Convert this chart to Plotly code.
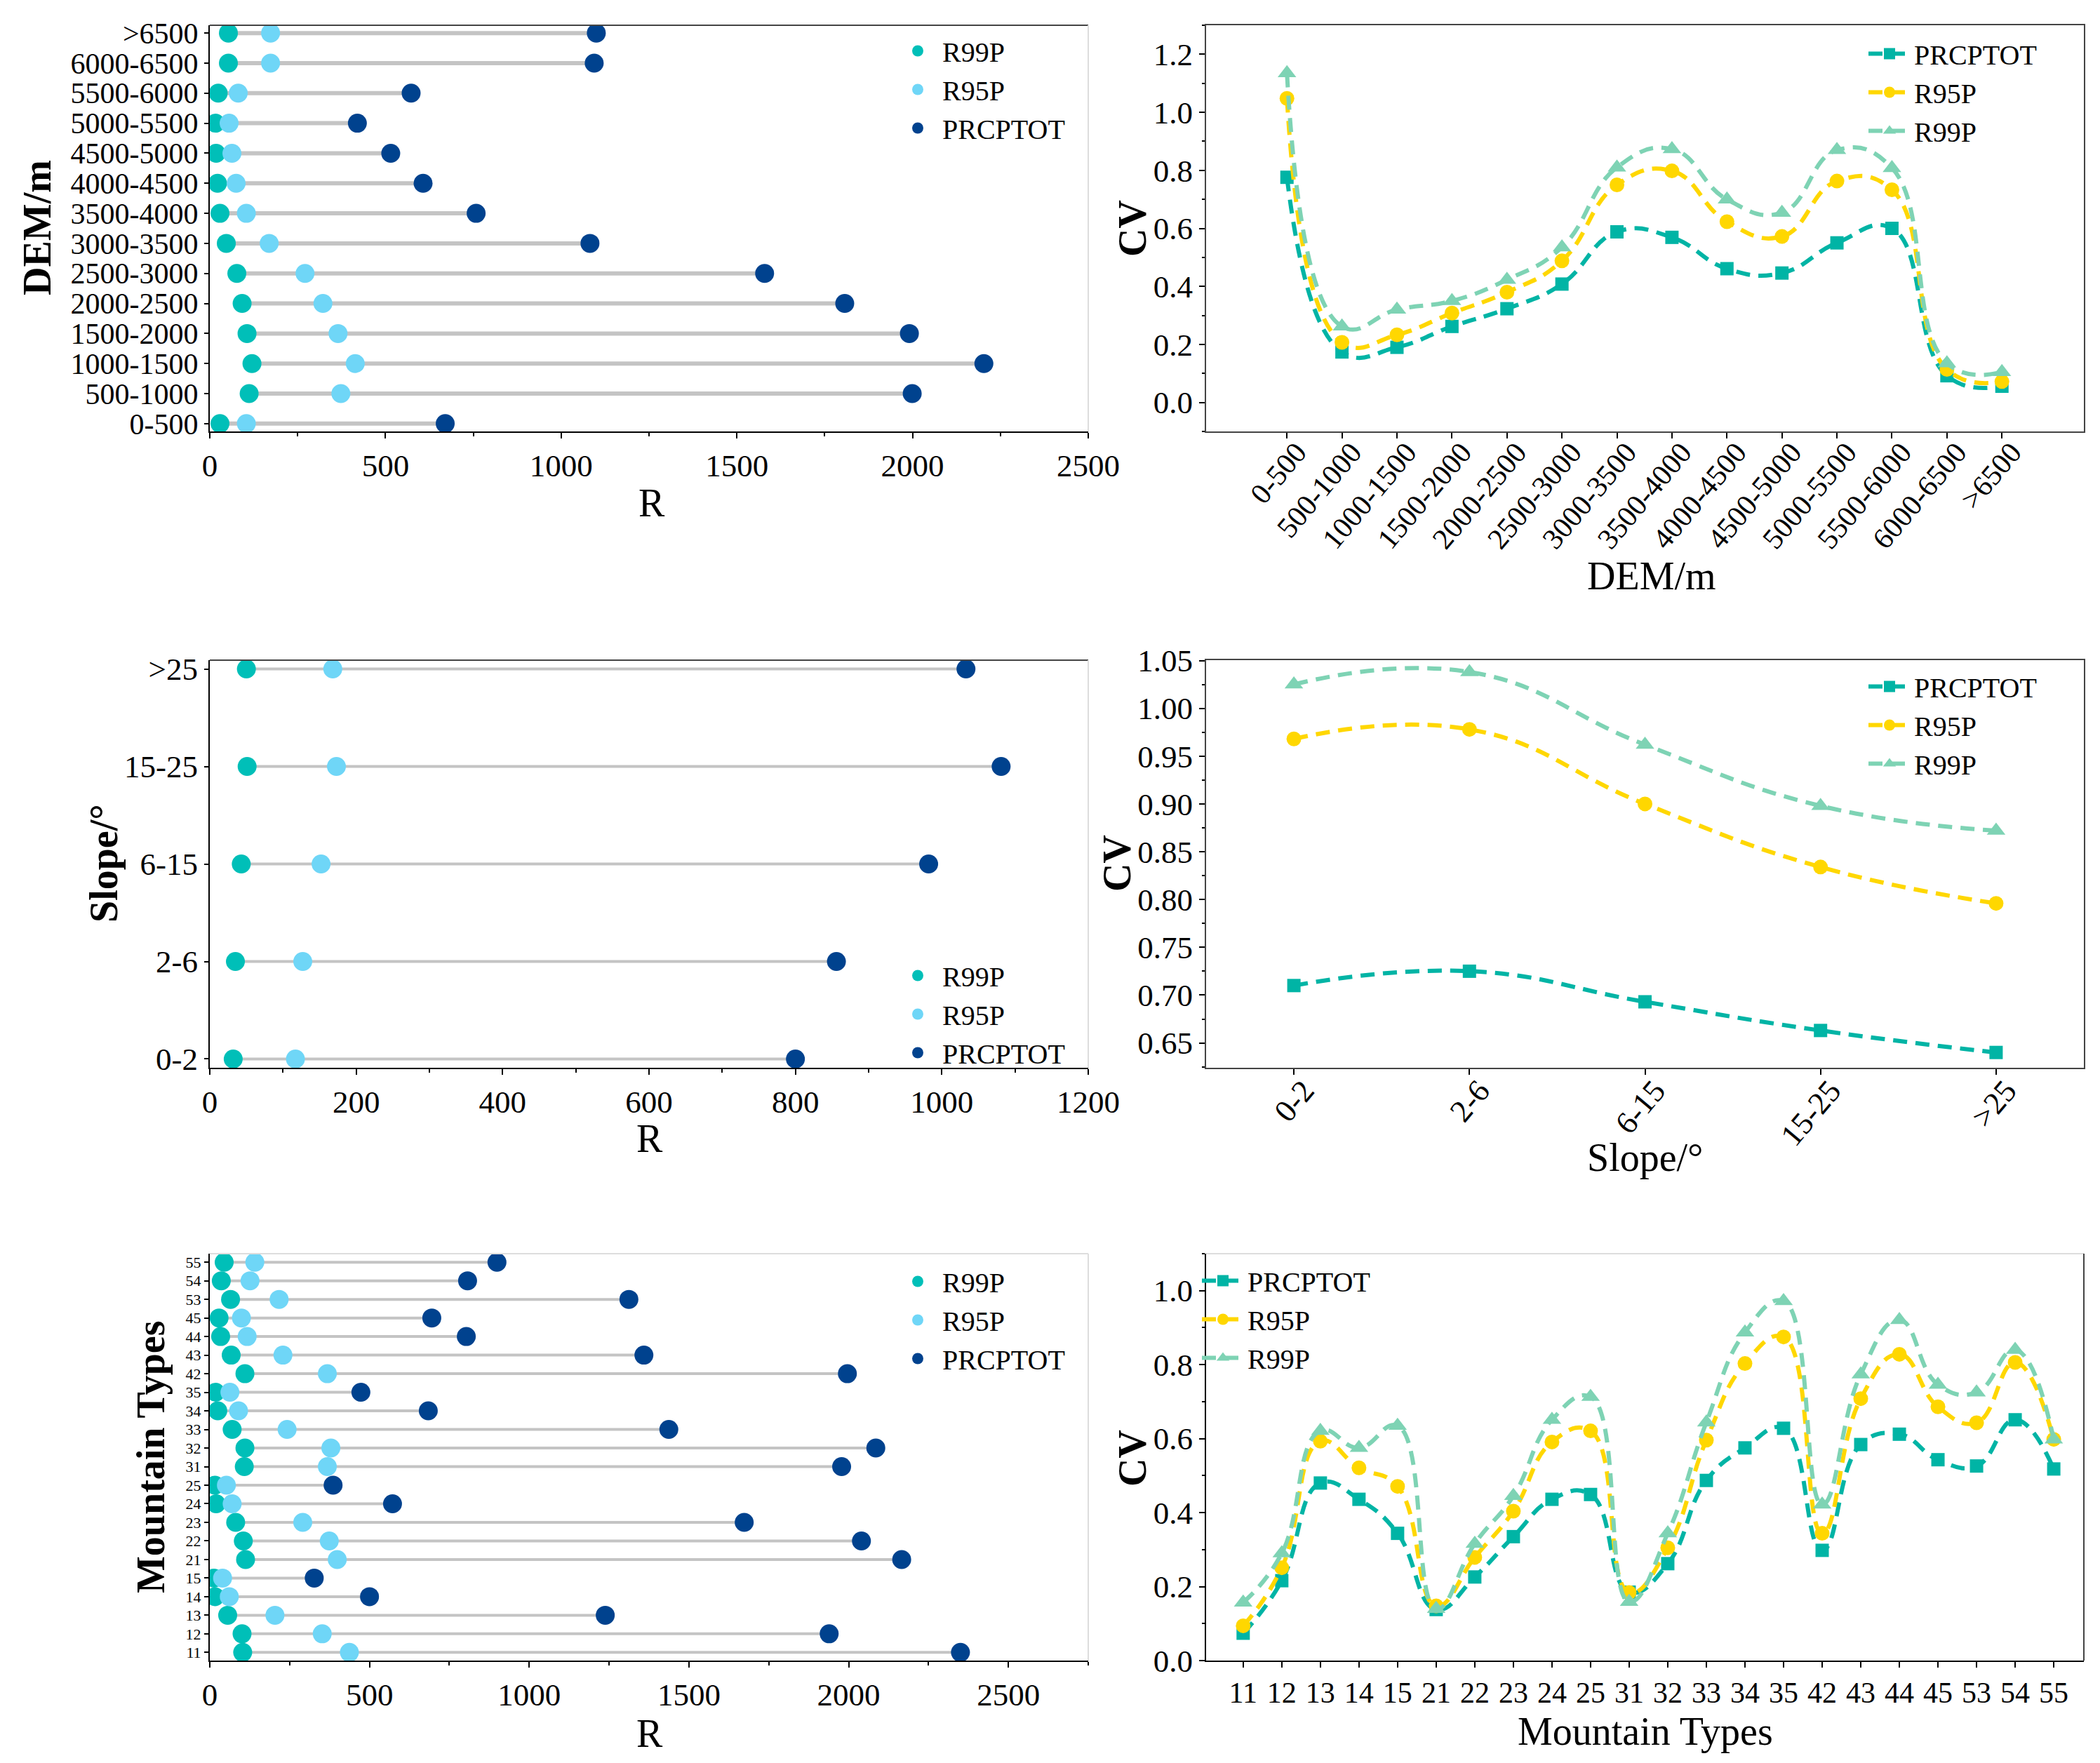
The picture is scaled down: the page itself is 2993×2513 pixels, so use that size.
import plotly.graph_objects as go

# ---------------- data ----------------
dem_cats = ['0-500', '500-1000', '1000-1500', '1500-2000', '2000-2500', '2500-3000', '3000-3500',
            '3500-4000', '4000-4500', '4500-5000', '5000-5500', '5500-6000', '6000-6500', '>6500']
dem_r99p = [29, 112, 120, 106, 92, 77, 47, 29, 22, 18, 16, 24, 53, 53]
dem_r95p = [104, 373, 414, 365, 322, 271, 169, 104, 75, 63, 55, 81, 173, 173]
dem_prcptot = [670, 1999, 2203, 1991, 1807, 1579, 1082, 758, 607, 515, 420, 573, 1094, 1100]

dem_cv_prcptot = [0.776, 0.174, 0.190, 0.262, 0.323, 0.408, 0.588, 0.569, 0.461, 0.446, 0.550, 0.600, 0.092, 0.056]
dem_cv_r95p = [1.048, 0.207, 0.233, 0.308, 0.380, 0.488, 0.750, 0.798, 0.623, 0.572, 0.763, 0.733, 0.114, 0.072]
dem_cv_r99p = [1.135, 0.262, 0.320, 0.350, 0.423, 0.535, 0.810, 0.873, 0.700, 0.654, 0.870, 0.808, 0.135, 0.105]

slope_cats = ['0-2', '2-6', '6-15', '15-25', '>25']
slope_r99p = [32, 35, 43, 51, 50]
slope_r95p = [117, 127, 152, 173, 168]
slope_prcptot = [800, 856, 982, 1081, 1033]

slope_cv_prcptot = [0.710, 0.725, 0.693, 0.663, 0.640]
slope_cv_r95p = [0.968, 0.978, 0.900, 0.834, 0.796]
slope_cv_r99p = [1.025, 1.038, 0.962, 0.898, 0.872]

mt_cats = ['11', '12', '13', '14', '15', '21', '22', '23', '24', '25', '31', '32', '33', '34', '35',
           '42', '43', '44', '45', '53', '54', '55']
mt_r99p = [103, 101, 56, 16, 13, 112, 105, 81, 20, 16, 108, 110, 70, 25, 18, 110, 67, 34, 29, 65, 36, 45]
mt_r95p = [437, 352, 204, 61, 40, 399, 374, 291, 70, 52, 368, 379, 242, 90, 63, 368, 229, 117, 99, 217, 126, 141]
mt_prcptot = [2350, 1939, 1238, 500, 327, 2166, 2040, 1673, 572, 386, 1978, 2085, 1437, 684, 473,
              1996, 1359, 803, 695, 1312, 807, 899]

mt_cv_prcptot = [0.074, 0.216, 0.480, 0.436, 0.344, 0.138, 0.226, 0.335, 0.436, 0.449, 0.185, 0.262, 0.487,
                 0.575, 0.628, 0.298, 0.584, 0.612, 0.543, 0.526, 0.651, 0.518]
mt_cv_r95p = [0.094, 0.251, 0.593, 0.521, 0.471, 0.148, 0.279, 0.404, 0.591, 0.621, 0.184, 0.305, 0.596,
              0.803, 0.875, 0.344, 0.708, 0.828, 0.686, 0.643, 0.806, 0.598]
mt_cv_r99p = [0.157, 0.290, 0.621, 0.575, 0.635, 0.140, 0.316, 0.445, 0.651, 0.713, 0.159, 0.344, 0.644,
              0.887, 0.972, 0.422, 0.774, 0.921, 0.746, 0.725, 0.840, 0.598]

# ---------------- styling ----------------
W, H = 2993, 2513
SERIF = 'Liberation Serif'
C_R99P_DOT = '#00BFB8'
C_R95P_DOT = '#6FD6F7'
C_PRC_DOT = '#00428E'
C_PRC_LINE = '#00B4A5'
C_R95_LINE = '#FFD700'
C_R99_LINE = '#7ED3B4'
GRAY = '#C4C4C4'


def px_x(a, b):
    return [a / W, b / W]


def px_y(top, bottom):
    return [1 - bottom / H, 1 - top / H]


LEFT_X = px_x(291, 1543)
RIGHT_X = px_x(1711, 2962)
ROW_Y = [px_y(28, 607), px_y(933, 1514), px_y(1779, 2359)]

fig = go.Figure()


def add_dumbbell(cats, r99, r95, prc, xa, ya, legend, lw):
    xs, ys = [], []
    for c, a, b in zip(cats, r99, prc):
        xs += [min(a, b), max(a, b), None]
        ys += [c, c, None]
    fig.add_trace(go.Scatter(x=xs, y=ys, mode='lines', line=dict(color=GRAY, width=lw),
                             showlegend=False, hoverinfo='skip', xaxis=xa, yaxis=ya))
    for name, vals, col in [('R99P', r99, C_R99P_DOT), ('R95P', r95, C_R95P_DOT), ('PRCPTOT', prc, C_PRC_DOT)]:
        fig.add_trace(go.Scatter(x=vals, y=cats, mode='markers', name=name,
                                 marker=dict(color=col, size=27, line=dict(width=0)),
                                 xaxis=xa, yaxis=ya, legend=legend))


def add_cv(cats, prc, r95, r99, xa, ya, legend):
    for name, vals, col, sym, sz in [('PRCPTOT', prc, C_PRC_LINE, 'square', 19),
                                     ('R95P', r95, C_R95_LINE, 'circle', 21),
                                     ('R99P', r99, C_R99_LINE, 'triangle-up', 23)]:
        fig.add_trace(go.Scatter(x=cats, y=vals, mode='lines+markers', name=name,
                                 line=dict(color=col, width=6, dash='20px,12px', shape='spline', smoothing=1.3),
                                 marker=dict(color=col, symbol=sym, size=sz),
                                 xaxis=xa, yaxis=ya, legend=legend))


add_dumbbell(dem_cats, dem_r99p, dem_r95p, dem_prcptot, 'x', 'y', 'legend', 6)
add_cv(dem_cats, dem_cv_prcptot, dem_cv_r95p, dem_cv_r99p, 'x2', 'y2', 'legend2')
add_dumbbell(slope_cats, slope_r99p, slope_r95p, slope_prcptot, 'x3', 'y3', 'legend3', 4)
add_cv(slope_cats, slope_cv_prcptot, slope_cv_r95p, slope_cv_r99p, 'x4', 'y4', 'legend4')
add_dumbbell(mt_cats, mt_r99p, mt_r95p, mt_prcptot, 'x5', 'y5', 'legend5', 4)
add_cv(mt_cats, mt_cv_prcptot, mt_cv_r95p, mt_cv_r99p, 'x6', 'y6', 'legend6')


def tf(size=45):
    return dict(family=SERIF, size=size, color='black')


def base_axis(**kw):
    d = dict(showgrid=False, zeroline=False, showline=True, linecolor='black', linewidth=2,
             ticks='outside', ticklen=8, tickwidth=1.5, tickcolor='black', tickfont=tf(),
             automargin=False)
    d.update(kw)
    return d


def cat_axis(cats, **kw):
    return base_axis(type='category', categoryorder='array', categoryarray=cats,
                     tickmode='array', tickvals=cats, ticktext=cats, **kw)


layout = dict(
    width=W, height=H, margin=dict(l=0, r=0, t=0, b=0, autoexpand=False),
    paper_bgcolor='white', plot_bgcolor='white', showlegend=True,
    font=dict(family=SERIF, color='black'),
)

# left charts
layout['xaxis'] = base_axis(domain=LEFT_X, anchor='y', range=[0, 2500], dtick=500,
                            minor=dict(ticks='outside', ticklen=5, dtick=250, tickcolor='black'))
layout['yaxis'] = cat_axis(dem_cats, domain=ROW_Y[0], anchor='x', range=[-0.26, 13.26], ticklen=6,
                           tickfont=tf(42))
layout['xaxis3'] = base_axis(domain=LEFT_X, anchor='y3', range=[0, 1200], dtick=200,
                             minor=dict(ticks='outside', ticklen=5, dtick=100, tickcolor='black'))
layout['yaxis3'] = cat_axis(slope_cats, domain=ROW_Y[1], anchor='x3', range=[-0.09, 4.09], ticklen=6)
layout['xaxis5'] = base_axis(domain=LEFT_X, anchor='y5', range=[0, 2750], dtick=500,
                             minor=dict(ticks='outside', ticklen=5, dtick=250, tickcolor='black'))
layout['yaxis5'] = cat_axis(mt_cats, domain=ROW_Y[2], anchor='x5', range=[-0.44, 21.46], ticklen=6,
                            tickfont=tf(22))

# right charts
layout['xaxis2'] = cat_axis(dem_cats, domain=RIGHT_X, anchor='y2', range=[-1.47, 14.49], tickangle=-50,
                            mirror=True, linecolor='#444', tickfont=tf(42),
                            ticklabelstandoff=-22, ticklabelshift=14)
layout['yaxis2'] = base_axis(domain=ROW_Y[0], anchor='x2', range=[-0.1, 1.3], dtick=0.2, tick0=0,
                             tickformat='.1f', mirror=True, linecolor='#444',
                             minor=dict(ticks='outside', ticklen=4, dtick=0.1, tickcolor='black'))
layout['xaxis4'] = cat_axis(slope_cats, domain=RIGHT_X, anchor='y4', range=[-0.5, 4.5], tickangle=-50,
                            mirror=True, linecolor='#444', ticklabelstandoff=-22, ticklabelshift=14)
layout['yaxis4'] = base_axis(domain=ROW_Y[1], anchor='x4', range=[0.624, 1.0504], dtick=0.05, tick0=0.65,
                             tickformat='.2f', mirror=True, linecolor='#444',
                             minor=dict(ticks='outside', ticklen=4, dtick=0.025, tickcolor='black'))
layout['xaxis6'] = cat_axis(mt_cats, domain=RIGHT_X, anchor='y6', range=[-0.96, 21.78],
                            tickfont=tf(42))
layout['yaxis6'] = base_axis(domain=ROW_Y[2], anchor='x6', range=[0, 1.1], dtick=0.2,
                             tickformat='.1f',
                             minor=dict(ticks='outside', ticklen=4, dtick=0.1, tickcolor='black'))

legfont = dict(family=SERIF, size=40, color='black')


def leg(xpx, ypx, anchor='left'):
    return dict(x=xpx / W, y=1 - ypx / H, xanchor=anchor, yanchor='top', font=legfont,
                bgcolor='rgba(0,0,0,0)', tracegroupgap=0, itemwidth=60)


layout['legend'] = leg(1265, 32)
layout['legend2'] = leg(2650, 36)
layout['legend3'] = leg(1265, 1350)
layout['legend4'] = leg(2650, 938)
layout['legend5'] = leg(1265, 1786)
layout['legend6'] = leg(1700, 1785)

fig.update_layout(**layout)

# axis titles (placed as annotations at the reference positions)
axis_titles = [
    ('R', 921, 709, 0, False), ('R', 918, 1615, 0, False), ('R', 918, 2463, 0, False),
    ('DEM/m', 2346, 813, 0, False), ('Slope/°', 2337, 1642, 0, False), ('Mountain Types', 2337, 2460, 0, False),
    ('DEM/m', 45, 317, -90, True), ('Slope/°', 140, 1223, -90, True), ('Mountain Types', 207, 2069, -90, True),
    ('CV', 1606, 318, -90, True), ('CV', 1584, 1223, -90, True), ('CV', 1606, 2071, -90, True),
]
for text, xp, yp, ang, bold in axis_titles:
    fig.add_annotation(text=text, x=xp / W, y=1 - yp / H, xref='paper', yref='paper',
                       xanchor='center', yanchor='middle', textangle=ang, showarrow=False,
                       font=dict(family=SERIF, size=56, color='black',
                                 weight='bold' if bold else 'normal'))

# extra borders for left plots (top dark, right light)
shapes = []
for i, (xr, yr) in enumerate([('x', 'y'), ('x3', 'y3'), ('x5', 'y5')]):
    top_col = '#444' if i < 2 else '#DDDDDD'
    shapes.append(dict(type='line', xref=xr + ' domain', yref=yr + ' domain', x0=0, x1=1, y0=1, y1=1,
                       line=dict(color=top_col, width=2)))
    shapes.append(dict(type='line', xref=xr + ' domain', yref=yr + ' domain', x0=1, x1=1, y0=0, y1=1,
                       line=dict(color='#DDDDDD', width=2)))
shapes.append(dict(type='line', xref='x6 domain', yref='y6 domain', x0=0, x1=1, y0=1, y1=1,
                   line=dict(color='#DDDDDD', width=2)))
shapes.append(dict(type='line', xref='x6 domain', yref='y6 domain', x0=1, x1=1, y0=0, y1=1,
                   line=dict(color='#444', width=2)))
fig.update_layout(shapes=shapes)

fig.write_html('out.html')
